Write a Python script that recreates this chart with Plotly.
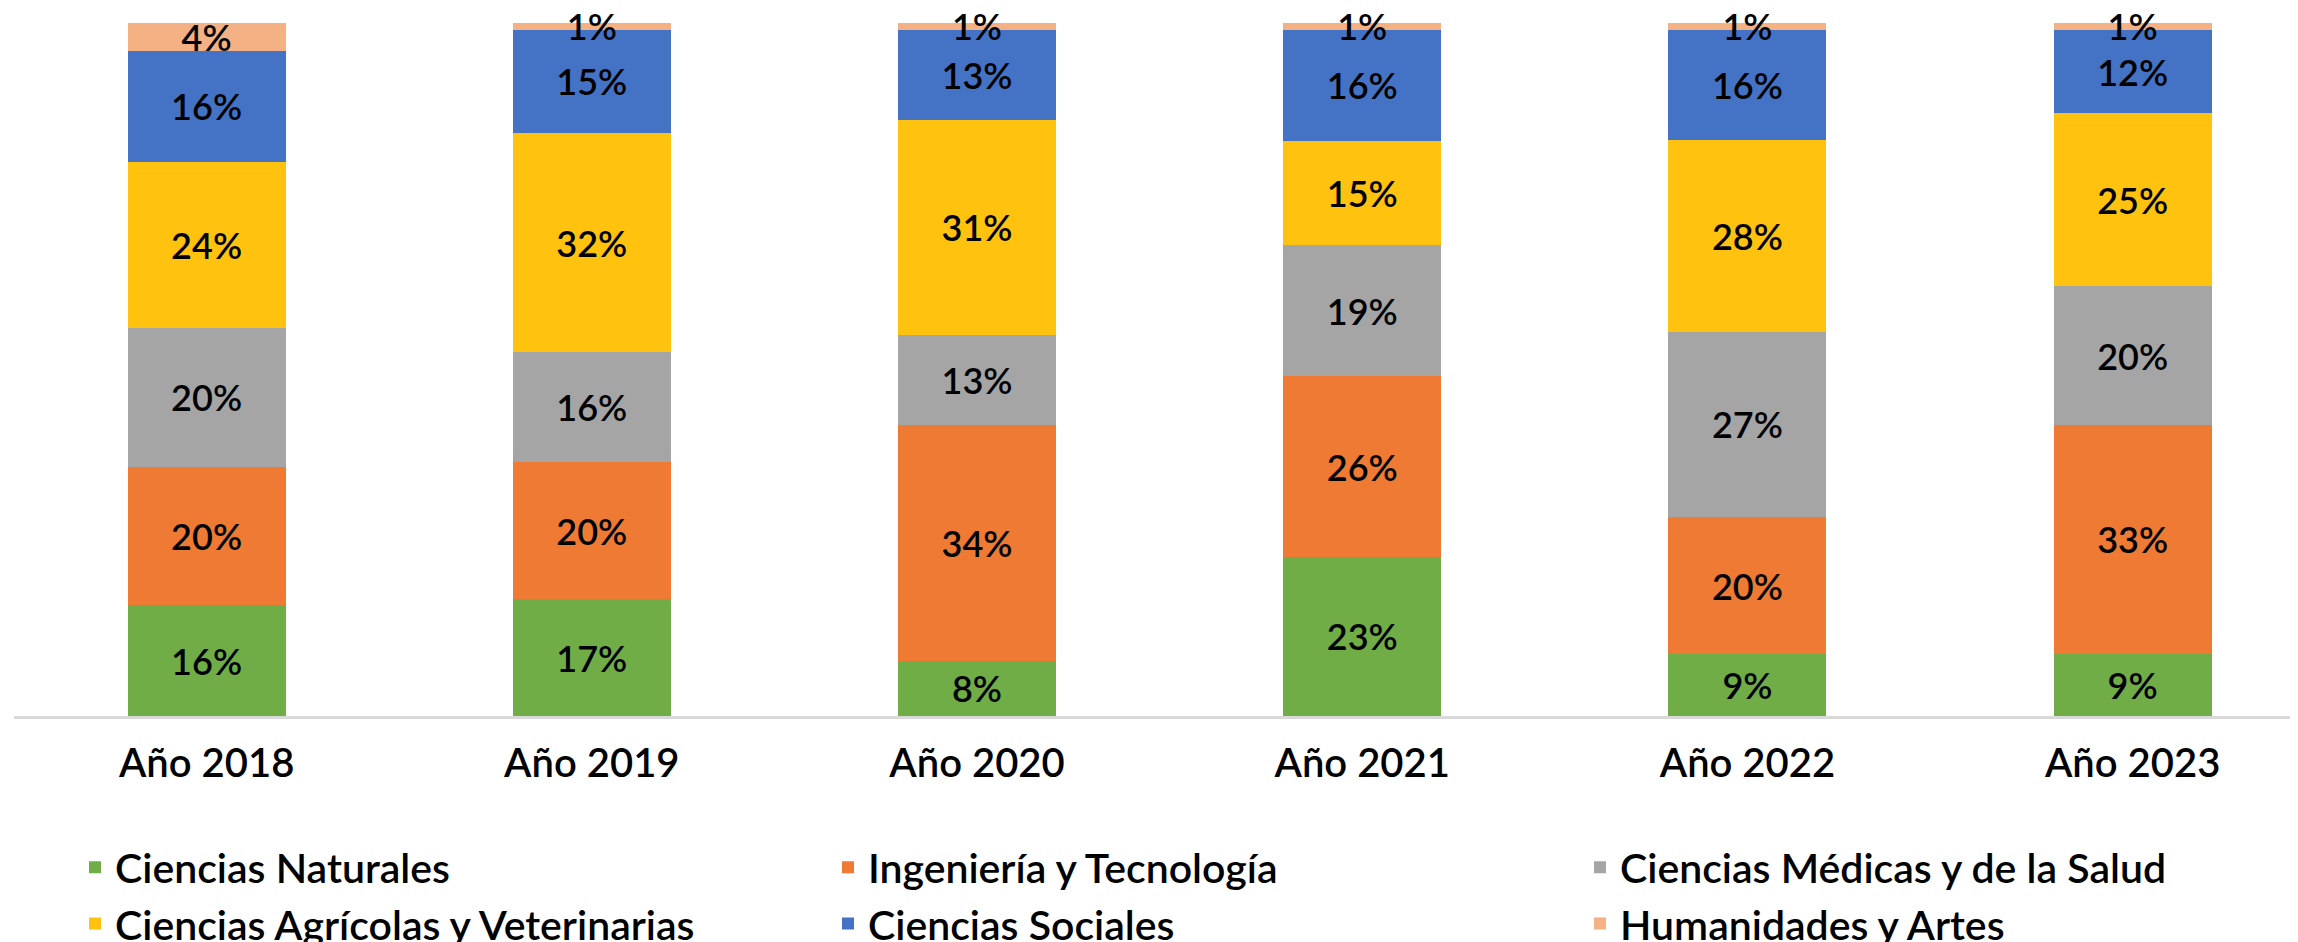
import plotly.graph_objects as go

# DATA
years = ["Año 2018", "Año 2019", "Año 2020", "Año 2021", "Año 2022", "Año 2023"]
naturales = [16, 17, 8, 23, 9, 9]
ingenieria = [20, 20, 34, 26, 20, 33]
medicas = [20, 16, 13, 19, 27, 20]
agricolas = [24, 32, 31, 15, 28, 25]
sociales = [16, 15, 13, 16, 16, 12]
humanidades = [4, 1, 1, 1, 1, 1]

# name, values, colour, legend column (one vertical legend per column)
series = [
    ("Ciencias Naturales", naturales, "#70AD47", "legend"),
    ("Ingeniería y Tecnología", ingenieria, "#EE7A33", "legend2"),
    ("Ciencias Médicas y de la Salud", medicas, "#A5A5A5", "legend3"),
    ("Ciencias Agrícolas y Veterinarias", agricolas, "#FFC20E", "legend"),
    ("Ciencias Sociales", sociales, "#4472C4", "legend2"),
    ("Humanidades y Artes", humanidades, "#F4B183", "legend3"),
]

FONT = "Lato"
W, H = 2298, 942

fig = go.Figure()
for name, vals, color, leg in series:
    fig.add_trace(go.Bar(
        x=years,
        y=vals,
        name=name,
        legend=leg,
        marker={"color": color, "line": {"width": 0}},
        text=[f"{v}%" for v in vals],
        textposition="inside",
        insidetextanchor="middle",
        textangle=0,
        constraintext="none",
        cliponaxis=False,
        textfont={"family": FONT, "size": 36, "color": "black", "weight": 600},
    ))

legend_font = {"family": FONT, "size": 41, "color": "black", "weight": 600}
legend_common = {
    "orientation": "v",
    "xref": "container",
    "yref": "container",
    "y": 0.123,
    "xanchor": "left",
    "yanchor": "top",
    "font": legend_font,
    "traceorder": "normal",
    "bgcolor": "rgba(0,0,0,0)",
}

fig.update_layout(
    barmode="stack",
    barnorm="percent",
    bargap=0.59,
    width=W,
    height=H,
    paper_bgcolor="white",
    plot_bgcolor="white",
    margin={"l": 6, "r": 0, "t": 15, "b": 234, "autoexpand": False},
    font={"family": FONT, "color": "black"},
    showlegend=True,
    legend={**legend_common, "x": 67 / W},
    legend2={**legend_common, "x": 820 / W},
    legend3={**legend_common, "x": 1572 / W},
)

fig.update_xaxes(
    range=[-0.5, 5.45],
    showline=True,
    linecolor="#D9D9D9",
    linewidth=3,
    ticks="",
    tickangle=0,
    showgrid=False,
    automargin=False,
    tickfont={"family": FONT, "size": 40, "color": "black", "weight": 600},
    ticklabelstandoff=10,
)
fig.update_yaxes(range=[0, 100], visible=False, showgrid=False)

fig.write_html("out.html")
